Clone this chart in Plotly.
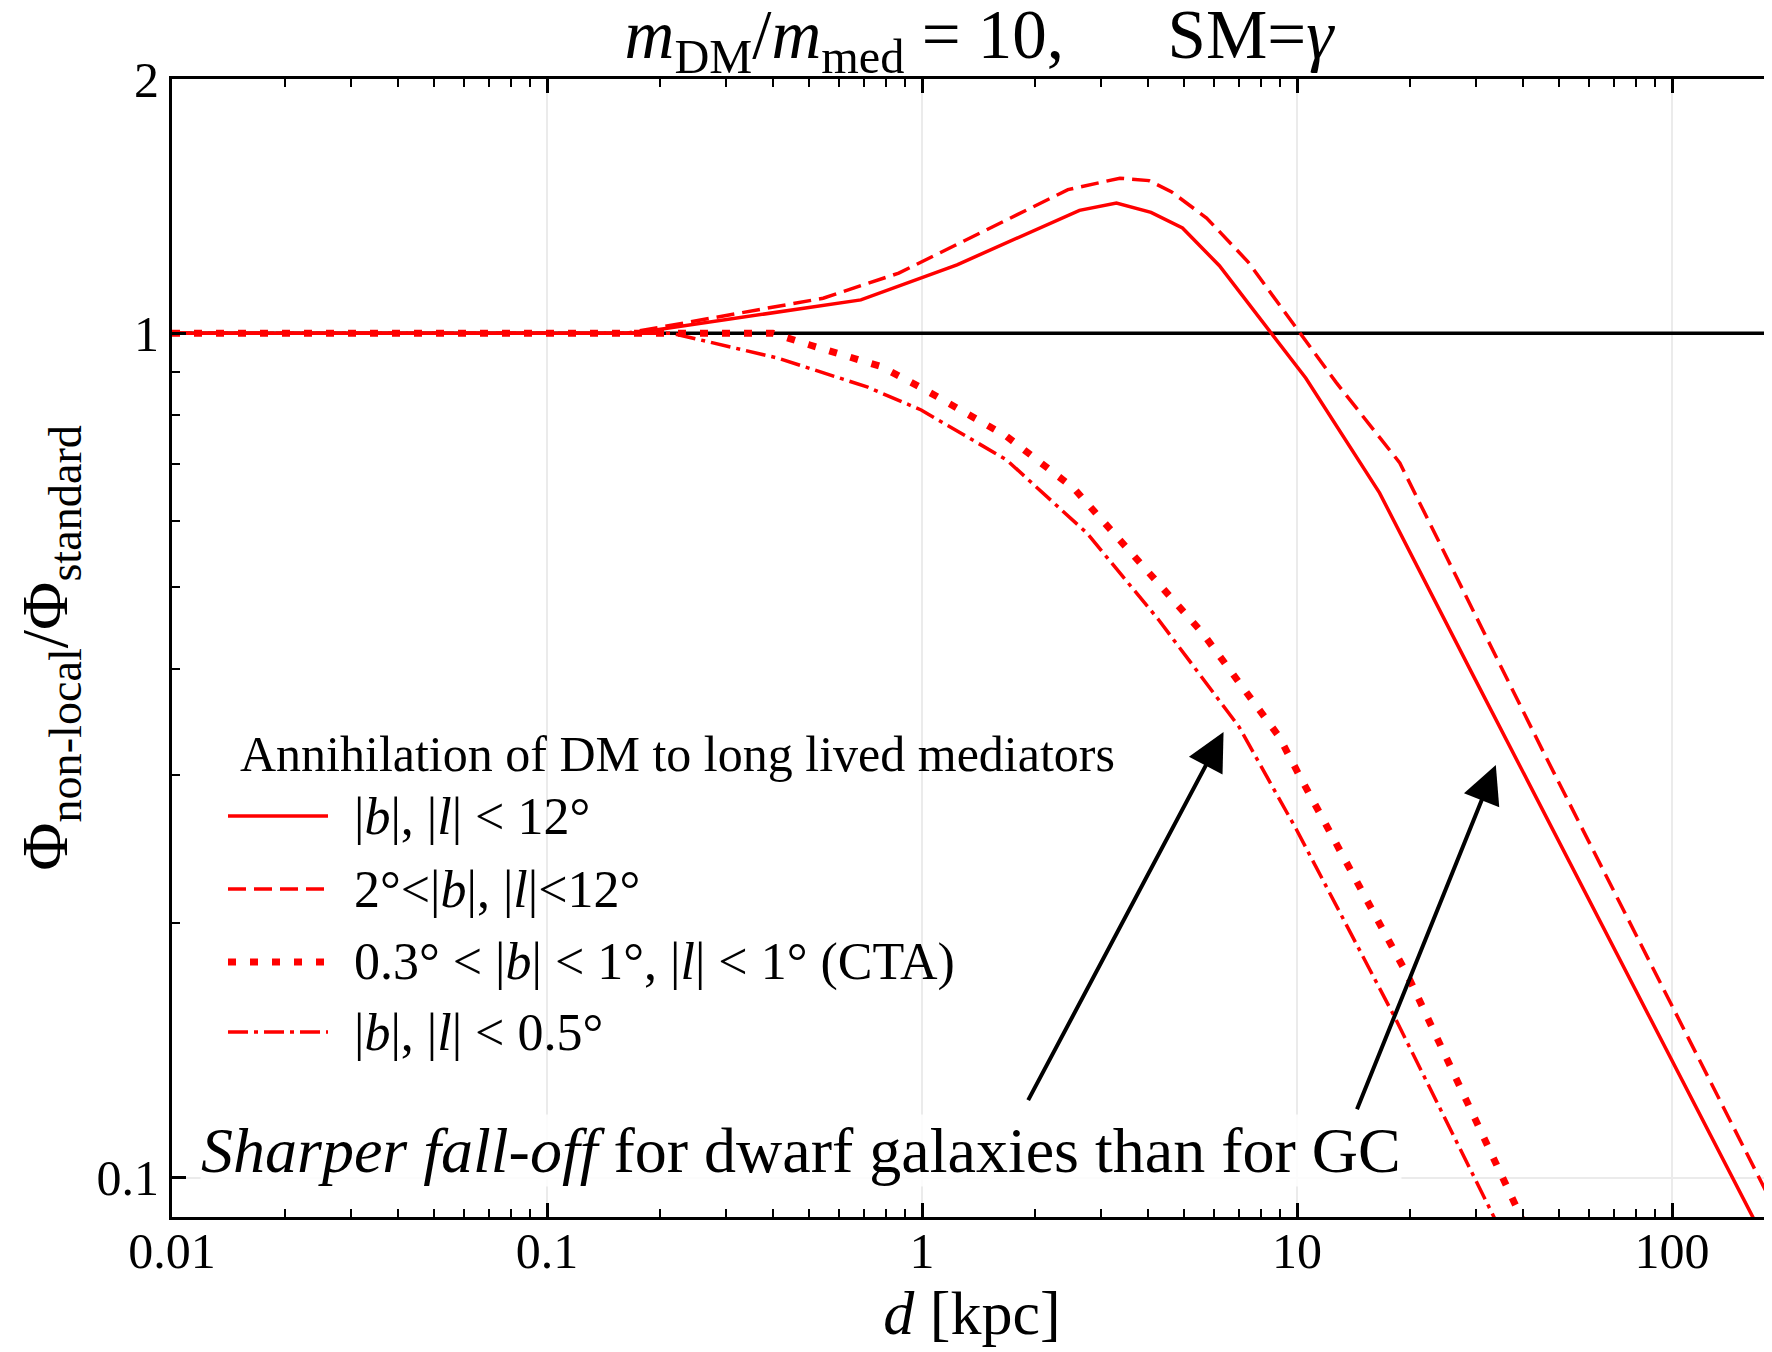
import math
import plotly.graph_objects as go

# ---------------- data ----------------
d_solid = [0.01, 0.1, 0.17, 0.687, 1.24, 2.63, 3.30, 4.08, 4.95, 6.21, 10.55, 16.6, 29.0, 164.0, 200.0]
r_solid = [1.0, 1.0, 1.0, 1.095, 1.205, 1.398, 1.426, 1.390, 1.332, 1.202, 0.885, 0.647, 0.399, 0.0899, 0.076]

d_dashed = [0.01, 0.1, 0.163, 0.545, 0.867, 2.45, 3.37, 4.03, 4.62, 5.74, 7.4, 12.7, 18.8, 45.1, 183.7, 200.0]
r_dashed = [1.0, 1.0, 1.0, 1.10, 1.178, 1.479, 1.526, 1.516, 1.471, 1.369, 1.215, 0.875, 0.702, 0.321, 0.094, 0.087]

d_dotted = [0.01, 0.1, 0.40, 0.50, 0.778, 1.0, 1.68, 2.54, 3.62, 5.61, 8.95, 10.2, 19.8, 39.6, 50.0]
r_dotted = [1.0, 1.0, 1.0, 0.969, 0.913, 0.861, 0.755, 0.655, 0.549, 0.441, 0.333, 0.298, 0.173, 0.090, 0.072]

d_dashdot = [0.01, 0.1, 0.215, 0.414, 0.717, 0.995, 1.68, 2.75, 4.27, 7.0, 9.98, 18.2, 33.4, 45.0]
r_dashdot = [1.0, 1.0, 1.0, 0.934, 0.863, 0.811, 0.708, 0.58, 0.458, 0.342, 0.258, 0.155, 0.0899, 0.069]

unity_d = [0.01, 200.0]
unity_r = [1.0, 1.0]

series_names = [
    "|<i>b</i>|, |<i>l</i>| &lt; 12°",
    "2°&lt;|<i>b</i>|, |<i>l</i>|&lt;12°",
    "0.3° &lt; |<i>b</i>| &lt; 1°, |<i>l</i>| &lt; 1° (CTA)",
    "|<i>b</i>|, |<i>l</i>| &lt; 0.5°",
]
legend_title = "Annihilation of DM to long lived mediators"

x_major = [0.01, 0.1, 1, 10, 100]
x_major_text = ["0.01", "0.1", "1", "10", "100"]
x_minor = [k * 10.0 ** n for n in range(-2, 3) for k in range(2, 10)]
y_major = [0.1, 1, 2]
y_major_text = ["0.1", "1", "2"]
y_minor = [0.2, 0.3, 0.4, 0.5, 0.6, 0.7, 0.8, 0.9]

# ---------------- style ----------------
FONT = "Liberation Serif"
RED = "#ff0000"
OFF = 8                      # page body margin of the html page
W, H = 1772 - OFF, 1352 - OFF
PL, PR, PT, PB = 172, 1772, 79, 1217   # plot area on the page
L, R, T, B = PL - OFF, 0, PT - OFF, 1352 - PB

styles = [
    dict(width=3.5, dash="solid"),
    dict(width=3.5, dash="18px,8px"),
    dict(width=7, dash="8px,14px"),
    dict(width=3.5, dash="20px,6px,4px,6px"),
]
series = [(d_solid, r_solid), (d_dashed, r_dashed), (d_dotted, r_dotted), (d_dashdot, r_dashdot)]

fig = go.Figure()
fig.add_trace(go.Scatter(x=unity_d, y=unity_r, mode="lines",
                         line=dict(color="black", width=3.5), showlegend=False, hoverinfo="skip"))
for (xs, ys), st, nm in zip(series, styles, series_names):
    fig.add_trace(go.Scatter(x=xs, y=ys, mode="lines", name=nm,
                             line=dict(color=RED, width=st["width"], dash=st["dash"]),
                             showlegend=False))


def px(X):
    return (X - PL) / (PR - PL)


def py(Y):
    return (PB - Y) / (PB - PT)


shapes = []
annotations = []

LEG_FS = 50
# legend box
shapes.append(dict(type="rect", xref="paper", yref="paper",
                   x0=px(220), x1=px(1119), y0=py(1062), y1=py(667),
                   fillcolor="white", opacity=0.85, line=dict(width=0), layer="between"))
annotations.append(dict(xref="paper", yref="paper", x=px(238), y=py(754), xanchor="left", yanchor="middle",
                        text=legend_title, showarrow=False, font=dict(family=FONT, size=LEG_FS, color="black")))
item_y = [816, 889, 962, 1032]
for st, nm, yy in zip(styles, series_names, item_y):
    shapes.append(dict(type="line", xref="paper", yref="paper",
                       x0=px(228), x1=px(328), y0=py(yy), y1=py(yy),
                       line=dict(color=RED, width=st["width"], dash=st["dash"]), layer="above"))
    annotations.append(dict(xref="paper", yref="paper", x=px(352), y=py(yy), xanchor="left", yanchor="middle",
                            text=nm, showarrow=False, font=dict(family=FONT, size=LEG_FS + 2, color="black")))

# main annotation text
annotations.append(dict(xref="paper", yref="paper", x=px(200), y=py(1150), xanchor="left", yanchor="middle",
                        text="<i>Sharper fall-off</i> for dwarf galaxies than for GC", showarrow=False,
                        bgcolor="rgba(255,255,255,0.85)", borderpad=0,
                        font=dict(family=FONT, size=64, color="black")))

# arrows (head, tail) in data coordinates
arrows = [((6.37, 0.337), (1.91, 0.123)), ((33.9, 0.308), (14.4, 0.120))]
for (hx, hy), (tx, ty) in arrows:
    annotations.append(dict(x=math.log10(hx), y=math.log10(hy), ax=math.log10(tx), ay=math.log10(ty),
                            xref="x", yref="y", axref="x", ayref="y", text="", showarrow=True,
                            arrowhead=2, arrowsize=1.9, arrowwidth=4, arrowcolor="black", standoff=0))

axis_common = dict(type="log", showline=True, linecolor="black", linewidth=3,
                   ticks="inside", ticklen=14, tickwidth=2.5, tickcolor="black",
                   showgrid=True, gridcolor="#ebebeb", gridwidth=2, zeroline=False,
                   tickfont=dict(family=FONT, size=50, color="black"))

NB = "\u00a0"
fig.update_layout(
    width=W, height=H,
    margin=dict(l=L, r=R, t=T, b=B, pad=0),
    paper_bgcolor="white", plot_bgcolor="white",
    title=dict(text="<i>m</i><sub>DM</sub>/<i>m</i><sub>med</sub> = 10," + NB * 6 + "SM=<i>γ</i>",
               x=px(979), xref="paper", xanchor="center", y=1 - (34 - OFF) / H, yref="container",
               yanchor="middle", font=dict(family=FONT, size=69, color="black")),
    xaxis=dict(**axis_common, range=[-2, -2 + 4 * (PR - PL) / (1672 - 172)], mirror="ticks",
               tickvals=x_major, ticktext=x_major_text, ticklabelstandoff=-12,
               minor=dict(tickvals=x_minor, ticks="inside", ticklen=8, tickwidth=2, tickcolor="black", showgrid=False),
               title=dict(text="<i>d</i> [kpc]", font=dict(family=FONT, size=62, color="black"), standoff=2)),
    yaxis=dict(**axis_common, range=[math.log10(0.0898), math.log10(2)], mirror=False,
               tickvals=y_major, ticktext=y_major_text,
               minor=dict(tickvals=y_minor, ticks="inside", ticklen=8, tickwidth=2, tickcolor="black", showgrid=False),
               title=dict(text="Φ<sub>non-local</sub>/Φ<sub>standard</sub>",
                          font=dict(family=FONT, size=66, color="black"), standoff=14)),
    shapes=shapes,
    annotations=annotations,
)

fig.write_html("out.html")
